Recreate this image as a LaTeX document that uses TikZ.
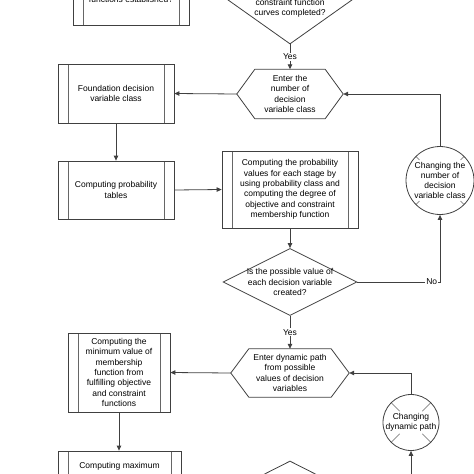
\documentclass[tikz,border=0pt]{standalone}
\usepackage{fontspec}
\setmainfont{Liberation Sans}
\usepackage{xcolor}
\usepackage{tikz}
\usetikzlibrary{arrows.meta,shapes.geometric,calc}

\definecolor{linec}{HTML}{404040}
\newcommand{\hexagon}[1]{(#1.west) -- ([xshift=18pt]#1.north west) -- ([xshift=-18pt]#1.north east) -- (#1.east) -- ([xshift=-18pt]#1.south east) -- ([xshift=18pt]#1.south west) -- cycle}

\begin{document}
\begin{tikzpicture}[
    x=1pt, y=-1pt,
    font=\fontsize{8.5}{10.3}\selectfont,
    line/.style={draw=linec, line width=0.8pt},
    arrow/.style={line, -{Triangle[length=5pt,width=4.5pt]}},
    procbox/.style={line, align=center, inner sep=0pt,
        path picture={\draw[linec!80, line width=0.6pt]
            ([xshift=10pt]path picture bounding box.north west) -- ([xshift=10pt]path picture bounding box.south west)
            ([xshift=-10pt]path picture bounding box.north east) -- ([xshift=-10pt]path picture bounding box.south east);}},
    hexbox/.style={align=center, inner sep=0pt},
    query/.style={diamond, line, inner sep=0pt, minimum width=134pt, minimum height=68pt},
    chgcirc/.style={circle, line, align=center, inner sep=0pt,
        path picture={\foreach \a in {45,135,225,315}
            \draw[linec!80, line width=0.6pt] ($(path picture bounding box.center)+(\a:#1)$) -- ($(path picture bounding box.center)+(\a:40pt)$);}},
    tag/.style={fill=white, inner sep=1pt}
]
\useasboundingbox (0,0) rectangle (474,474);
\clip (0,0) rectangle (474,474);

% cut-off top row
\node[procbox, minimum width=116pt, minimum height=53pt] (established) at (131,-1) {functions established?};
\node[query, minimum height=95pt, label={[name=curvestext, align=center, yshift=-11.5pt]center:constraint function\\curves completed?}] (curves) at (290,-3.5) {};

% decision variable class
\node[hexbox, minimum width=106pt, minimum height=49pt] (enterclass) at (290,94) {Enter the\\number of\\decision\\variable class};
\draw[line] \hexagon{enterclass};
\node[procbox, minimum width=116pt, minimum height=59pt] (foundation) at (116,93.5) {Foundation decision\\variable class};
\node[procbox, minimum width=116pt, minimum height=58pt] (probtables) at (116,190) {Computing probability\\tables};
\node[procbox, minimum width=136pt, minimum height=77pt] (probvalues) at (290,189.5) {Computing the probability\\values for each stage by\\using probability class and\\computing the degree of\\objective and constraint\\membership function};
\node[query, minimum height=67pt, label={[name=createdtext, align=center]center:Is the possible value of\\each decision variable\\created?}] (created) at (290,282) {};
\node[chgcirc=29pt, minimum size=68pt] (chgclass) at (440,180.5) {Changing the\\number of\\decision\\variable class};

% dynamic path
\node[hexbox, minimum width=118pt, minimum height=48pt] (dynpath) at (290,373) {Enter dynamic path\\from possible\\values of decision\\variables};
\draw[line] \hexagon{dynpath};
\node[procbox, minimum width=102pt, minimum height=79pt] (minvalue) at (119,372.5) {Computing the\\minimum value of\\membership\\function from\\fulfilling objective\\and constraint\\functions};
\node[chgcirc=16pt, minimum size=56pt] (chgpath) at (411,422.5) {Changing\\dynamic path};
\node[procbox, minimum width=123pt, minimum height=30pt] (maxvalue) at (119.5,466) {Computing maximum};
\node[query] (nextquery) at (290,495) {};
\coordinate (fromfar) at (411,480);

\draw[arrow] (curves.south) -- node[tag] (yesclass) {Yes} (enterclass.north);
\draw[arrow] (enterclass.west) -- (foundation.east);
\draw[arrow] (foundation.south) -- (probtables.north);
\draw[arrow] (probtables.east) -- (probvalues.west);
\draw[arrow] (probvalues.south) -- (created.north);
\draw[arrow] (created.east) -| node[tag, pos=0.45] (noclass) {No} (chgclass.south);
\draw[arrow] (chgclass.north) |- (enterclass.east);
\draw[arrow] (created.south) -- node[tag] (yespath) {Yes} (dynpath.north);
\draw[arrow] (dynpath.west) -- (minvalue.east);
\draw[arrow] (minvalue.south) -- (minvalue.south |- maxvalue.north);
\draw[arrow] (chgpath.north) |- (dynpath.east);
\draw[arrow] (fromfar) -- (chgpath.south);
\end{tikzpicture}
\end{document}
